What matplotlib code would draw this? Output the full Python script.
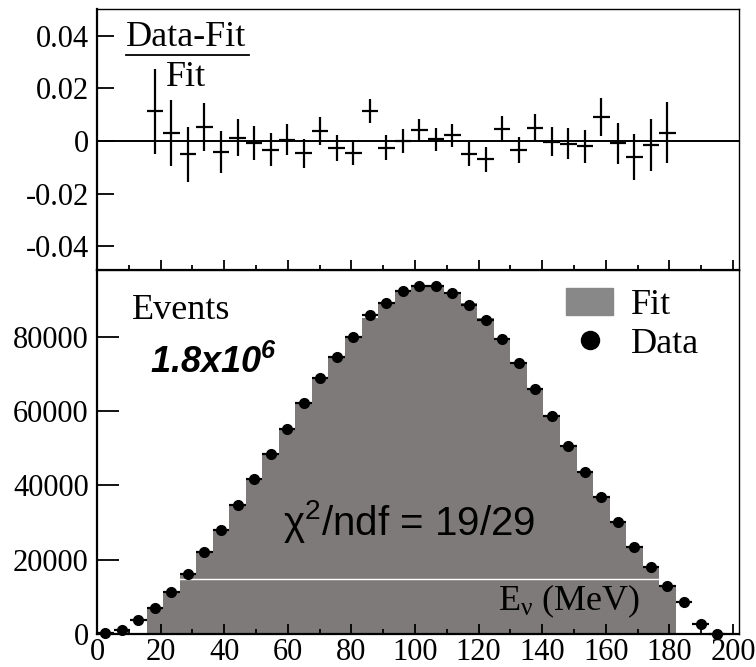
import numpy as np
import matplotlib
matplotlib.use('Agg')
import matplotlib.pyplot as plt
from matplotlib.patches import Patch
from matplotlib.lines import Line2D

plt.rcParams['font.family'] = ['Liberation Serif', 'DejaVu Serif']
plt.rcParams['axes.unicode_minus'] = False
plt.rcParams['mathtext.fontset'] = 'custom'
plt.rcParams['mathtext.rm'] = 'Liberation Serif'
plt.rcParams['mathtext.it'] = 'Liberation Serif:italic'
plt.rcParams['mathtext.bf'] = 'Liberation Sans:bold:italic'
plt.rcParams['mathtext.sf'] = 'Liberation Sans'

# binning (MeV)
bin_w = 5.2
n_bins = 38
fit_first, fit_last = 3, 34   # bins included in the fit

# data counts per bin
data = [300, 1160, 3780, 7100, 11270, 16220, 22080, 28020, 34780, 41630,
        48470, 55140, 62170, 68850, 74520, 79830, 85960, 89010, 92360, 93710,
        93600, 91900, 88660, 84600, 79470, 72980, 66040, 58650, 50630, 43600,
        36840, 30080, 23330, 18020, 12970, 8500, 2620, 100]

# fitted histogram (bins 3..34)
fit = [7020, 11240, 16300, 21960, 28140, 34740, 41660, 48630, 55110, 62460,
       68590, 74720, 80200, 85000, 89230, 92360, 93330, 93540, 91700, 89110,
       85200, 79120, 73240, 65710, 58670, 50680, 43690, 36510, 30110, 23470,
       18050, 12930]

# (data-fit)/fit and its error, bins 3..34
resid = [0.0113, 0.0029, -0.0050, 0.0053, -0.0042, 0.0013, -0.0008, -0.0033,
         0.0005, -0.0047, 0.0038, -0.0027, -0.0046, 0.0113, -0.0025, 0.0000,
         0.0041, 0.0006, 0.0022, -0.0051, -0.0070, 0.0044, -0.0035, 0.0051,
         -0.0003, -0.0010, -0.0020, 0.0091, -0.0009, -0.0060, -0.0015, 0.0032]
resid_err = [0.0161, 0.0126, 0.0104, 0.0090, 0.0079, 0.0071, 0.0066, 0.0062,
             0.0058, 0.0054, 0.0052, 0.0050, 0.0047, 0.0046, 0.0046, 0.0044,
             0.0044, 0.0045, 0.0044, 0.0046, 0.0047, 0.0049, 0.0049, 0.0053,
             0.0056, 0.0060, 0.0063, 0.0071, 0.0078, 0.0087, 0.0099, 0.0116]

# stray white frame line seen inside the filled histogram
white_y = 14800
white_x = (26.0, 176.8)

edges = np.arange(n_bins + 1) * bin_w
centers = edges[:-1] + bin_w / 2
fit_edges = edges[fit_first:fit_last + 2]
fit_centers = centers[fit_first:fit_last + 1]

hist_col = '#7f7a7a'

fig = plt.figure(figsize=(7.56, 6.67), dpi=100)
ax_top = fig.add_axes([0.1283, 0.5952, 0.8492, 0.3913])
ax_bot = fig.add_axes([0.1283, 0.0495, 0.8492, 0.5457])

for ax in (ax_top, ax_bot):
    ax.set_xlim(0, 201.9)
    ax.set_xticks(np.arange(0, 201, 20))
    ax.set_xticks(np.arange(10, 201, 20), minor=True)
    ax.tick_params(axis='x', which='major', direction='in', length=7, width=1.3,
                   labelsize=22, pad=3, top=False)
    ax.tick_params(axis='x', which='minor', direction='in', length=3.5, width=1.3,
                   top=False)
    ax.spines['left'].set_linewidth(1.6)
    ax.spines['bottom'].set_linewidth(1.6)
    ax.spines['top'].set_linewidth(1.0)
    ax.spines['right'].set_linewidth(1.0)

# ---- residual panel
ax_top.errorbar(fit_centers, resid, xerr=bin_w / 2, yerr=resid_err, fmt='none',
                ecolor='k', elinewidth=1.6, capsize=0)
ax_top.axhline(0, color='k', lw=1.4)
ax_top.set_ylim(-0.049, 0.0501)
ax_top.set_yticks([-0.04, -0.02, 0, 0.02, 0.04])
ax_top.set_yticklabels(['-0.04', '-0.02', '0', '0.02', '0.04'])
ax_top.tick_params(axis='y', direction='in', length=12, width=1.3, labelsize=22,
                   pad=6, right=False)
ax_top.tick_params(axis='x', labelbottom=False)
ax_top.text(0.045, 0.955, 'Data-Fit', transform=ax_top.transAxes, fontsize=26,
            ha='left', va='top')
ax_top.plot([0.045, 0.237], [0.823, 0.823], transform=ax_top.transAxes,
            color='k', lw=1.3)
ax_top.text(0.108, 0.8, 'Fit', transform=ax_top.transAxes, fontsize=26,
            ha='left', va='top')

# ---- spectrum panel
ax_bot.stairs(fit, fit_edges, fill=True, color=hist_col, zorder=1)
ax_bot.plot(white_x, [white_y, white_y], color='white', lw=1.0, zorder=1.2)
ax_bot.errorbar(centers, data, xerr=bin_w / 2, fmt='o', color='k', ms=7,
                elinewidth=1.6, capsize=0, clip_on=False, zorder=3)
ax_bot.set_ylim(0, 98000)
ax_bot.set_yticks([0, 20000, 40000, 60000, 80000])
ax_bot.tick_params(axis='y', direction='in', length=16, width=1.3, labelsize=22,
                   pad=6, right=False)

ax_bot.text(0.055, 0.935, 'Events', transform=ax_bot.transAxes, fontsize=26,
            ha='left', va='top')
ax_bot.text(0.082, 0.745, r'$\mathbf{1.8x10^{6}}$', transform=ax_bot.transAxes,
            fontsize=26, ha='left', va='center')
ax_bot.text(0.29, 0.31, r'$\mathsf{χ^{2}/ndf}$ = 19/29', transform=ax_bot.transAxes,
            family='Liberation Sans', fontsize=29, ha='left', va='center')
ax_bot.text(171, 6500, r'E$_{\mathrm{ν}}$ (MeV)', fontsize=26,
            ha='right', va='baseline')

handles = [Patch(color='#888888'),
           Line2D([], [], marker='o', color='k', ls='none', ms=13)]
ax_bot.legend(handles, ['Fit', 'Data'], loc='upper left', frameon=False,
              bbox_to_anchor=(0.731, 0.95), fontsize=26, handlelength=1.3,
              handleheight=0.75, handletextpad=0.5, labelspacing=0.15,
              borderpad=0, borderaxespad=0)

plt.savefig('out.png', dpi=100)
